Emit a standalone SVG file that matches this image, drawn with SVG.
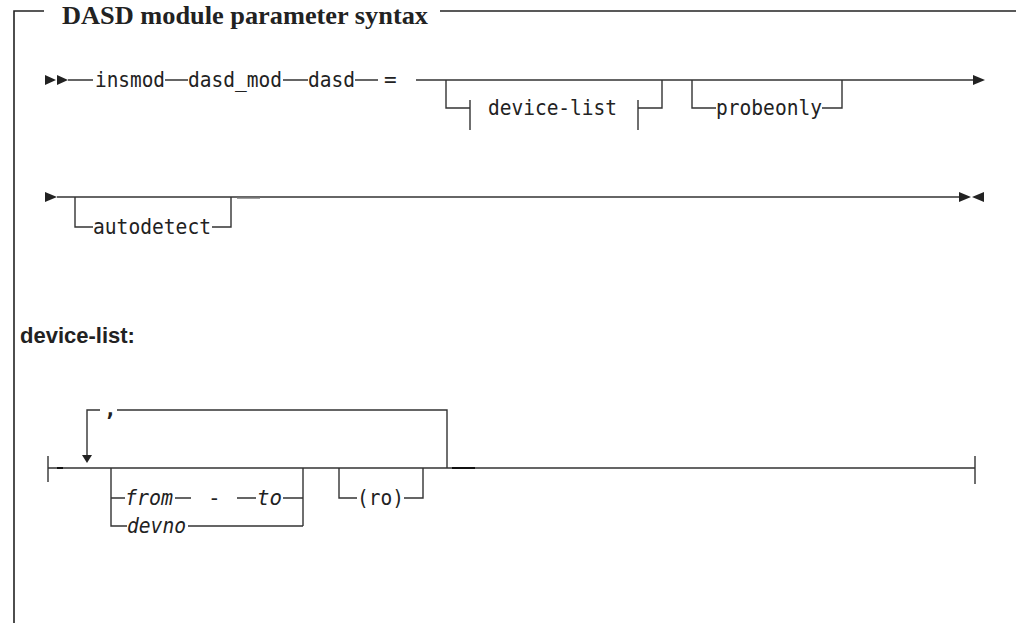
<svg xmlns="http://www.w3.org/2000/svg" width="1016" height="623" viewBox="0 0 1016 623">
<style>
.ln{fill:none;stroke:#333;stroke-width:1.4}
.dk{fill:none;stroke:#111;stroke-width:1.8}
.gr{fill:none;stroke:#777;stroke-width:1.4}
.fr{fill:none;stroke:#222;stroke-width:1.6}
.mono{font-family:"DejaVu Sans Mono",monospace;font-size:21px;fill:#222}
.it{font-style:italic}
.ttl{font-family:"Liberation Serif",serif;font-weight:bold;font-size:25px;fill:#222}
.hd{font-family:"Liberation Sans",Arial,sans-serif;font-weight:bold;font-size:22px;fill:#222}
.ah{fill:#222}
</style>
<rect width="1016" height="623" fill="#fff"/>
<g id="frame">
<path class="fr" d="M14,623 V11 H44"/>
<path class="fr" d="M440,11 H1016"/>
<text class="ttl" x="62" y="24" textLength="366" lengthAdjust="spacingAndGlyphs">DASD module parameter syntax</text>
</g>
<g id="connectors">
<path class="ah" d="M45,75 L56,80 L45,85 Z M57,75 L68,80 L57,85 Z"/>
<path class="ln" d="M68,80 H93 M165,80 H188 M283,80 H308 M355,80 H378 M416,80 H973"/>
<path class="ah" d="M973,75 L985,80 L973,85 Z"/>
<path class="ln" d="M446,80 V108 H470 M470,100 V130 M638,100 V130 M638,108 H662 V80"/>
<path class="ln" d="M692,80 V108 H716 M822,108 H842 V80"/>
<path class="ah" d="M45,192 L57,197 L45,202 Z"/>
<path class="ln" d="M57,197 H959"/>
<path class="ln" d="M75,197 V227 H93 M212,227 H231 V197"/>
<path class="gr" d="M237,198 H260"/>
<path class="ah" d="M959,192 L971,197 L959,202 Z M984,192 L972,197 L984,202 Z"/>
<path class="ln" d="M48,456 V482 M48,468 H975 M975,456 V484"/>
<path class="dk" d="M57,468 H63 M452,468 H475"/>
<path class="ln" d="M87,456 V410 H100 M117,410 H447 V468"/>
<path class="ah" d="M82,455 L92,455 L87,463 Z"/>
<path class="ln" d="M111,468 V526 H127 M111,498 H125 M175,498 H191 M237,498 H256 M283,498 H303 M188,526 H303 M303,468 V526"/>
<path class="ln" d="M339,468 V498 H357 M404,498 H423 V468"/>
</g>
<g id="node-insmod"><text class="mono" x="95" y="87" textLength="70" lengthAdjust="spacingAndGlyphs">insmod</text></g>
<g id="node-dasd_mod"><text class="mono" x="188" y="87" textLength="94" lengthAdjust="spacingAndGlyphs">dasd_mod</text></g>
<g id="node-dasd"><text class="mono" x="308" y="87" textLength="47" lengthAdjust="spacingAndGlyphs">dasd</text></g>
<g id="node-eq"><text class="mono" x="384" y="87">=</text></g>
<g id="node-device-list-ref"><text class="mono" x="488" y="115" textLength="129" lengthAdjust="spacingAndGlyphs">device-list</text></g>
<g id="node-probeonly"><text class="mono" x="716" y="115" textLength="106" lengthAdjust="spacingAndGlyphs">probeonly</text></g>
<g id="node-autodetect"><text class="mono" x="93" y="234" textLength="118" lengthAdjust="spacingAndGlyphs">autodetect</text></g>
<g id="node-device-list-head"><text class="hd" x="20" y="343">device-list:</text></g>
<g id="node-comma"><text class="mono" x="104" y="416" font-weight="bold">,</text></g>
<g id="node-from"><text class="mono it" x="125" y="505" textLength="48" lengthAdjust="spacingAndGlyphs">from</text></g>
<g id="node-dash"><text class="mono" x="208" y="505">-</text></g>
<g id="node-to"><text class="mono it" x="257" y="505" textLength="25" lengthAdjust="spacingAndGlyphs">to</text></g>
<g id="node-devno"><text class="mono it" x="127" y="533" textLength="59" lengthAdjust="spacingAndGlyphs">devno</text></g>
<g id="node-ro"><text class="mono" x="357" y="505" textLength="47" lengthAdjust="spacingAndGlyphs">(ro)</text></g>
</svg>
